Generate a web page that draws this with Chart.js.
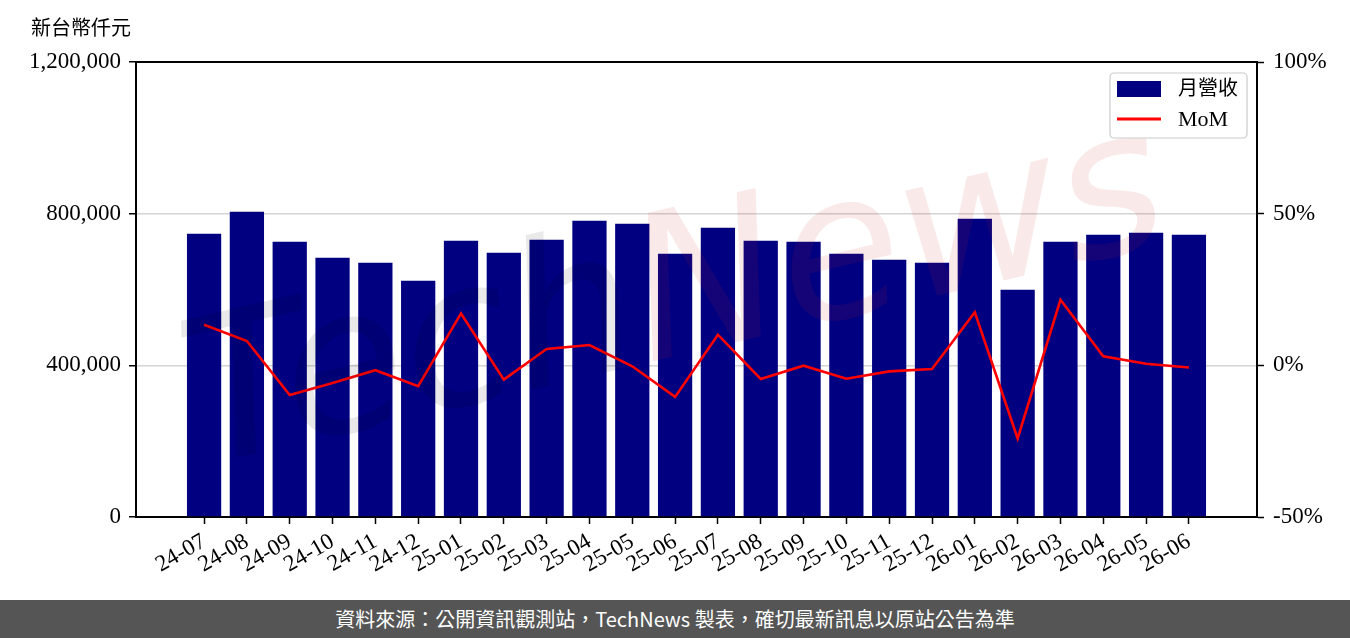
<!DOCTYPE html>
<html>
<head>
<meta charset="utf-8">
<script src="https://cdn.jsdelivr.net/npm/chart.js@4/dist/chart.umd.min.js"></script>
<style>
  html, body { margin: 0; padding: 0; background: #fff; }
  #wrap { position: relative; width: 1350px; height: 600px; }
  #footer {
    width: 1350px; height: 38px; background: #555555; color: #fff;
    font-family: "Noto Sans CJK TC", "Noto Sans", sans-serif; font-size: 20px;
    line-height: 38px; text-align: center;
  }
</style>
</head>
<body>
<div id="wrap"><canvas id="graphique" width="1350" height="600"></canvas></div>
<div id="footer">資料來源：公開資訊觀測站，TechNews 製表，確切最新訊息以原站公告為準</div>
<script>
// mois et valeurs
const mois = ['24-07', '24-08', '24-09', '24-10', '24-11', '24-12', '25-01', '25-02', '25-03', '25-04', '25-05', '25-06',
              '25-07', '25-08', '25-09', '25-10', '25-11', '25-12', '26-01', '26-02', '26-03', '26-04', '26-05', '26-06'];
const revenu = [747300, 805300, 726200, 684000, 670800, 623300, 728800, 697100, 731400, 781500, 773600, 694500,
                763100, 728800, 726200, 694500, 678700, 670800, 786800, 599600, 726200, 744600, 749900, 744600];
const mom = [13.4, 8.0, -9.8, -5.8, -1.6, -6.9, 17.1, -4.7, 5.4, 6.7, -0.3, -10.4,
             10.1, -4.5, -0.1, -4.4, -2.0, -1.2, 17.5, -24.1, 21.6, 3.0, 0.5, -0.7];
const revenuTicks = [0, 400000, 800000, 1200000];
const momTicks = [-50, 0, 50, 100];

const serif = '"Liberation Serif", "Noto Sans CJK TC", serif';
Chart.defaults.font.family = serif;
Chart.defaults.color = '#000';

const cadre = {
    id: 'cadre',
    afterDatasetsDraw(chart) {
        const { ctx, chartArea: a } = chart;
        // filigrane
        ctx.save();
        ctx.beginPath();
        ctx.rect(a.left, a.top, a.right - a.left, a.bottom - a.top);
        ctx.clip();
        ctx.translate(a.left + 500, a.top + 250);
        ctx.rotate(-13 * Math.PI / 180);
        ctx.font = 'italic 200px "DejaVu Sans"';
        ctx.textBaseline = 'middle';
        ctx.textAlign = 'right';
        ctx.fillStyle = 'rgba(0, 0, 0, 0.085)';
        ctx.fillText('Tech', 0, 0);
        ctx.textAlign = 'left';
        ctx.fillStyle = 'rgba(210, 40, 40, 0.1)';
        ctx.fillText('News', 0, 0);
        ctx.restore();

        // bord du haut
        ctx.save();
        ctx.strokeStyle = '#000';
        ctx.lineWidth = 2;
        ctx.beginPath();
        ctx.moveTo(a.left, a.top);
        ctx.lineTo(a.right, a.top);
        ctx.stroke();
        ctx.restore();
    },
    afterDraw(chart) {
        const { ctx, chartArea: a } = chart;
        ctx.save();
        // unité
        ctx.font = '20px "Noto Sans CJK TC"';
        ctx.fillStyle = '#000';
        ctx.textBaseline = 'middle';
        ctx.textAlign = 'left';
        ctx.fillText('新台幣仟元', 31, 27);

        // légende
        const x0 = a.right - 147, y0 = a.top + 11, w = 137, h = 65;
        ctx.fillStyle = 'rgba(255,255,255,0.85)';
        ctx.strokeStyle = '#cccccc';
        ctx.lineWidth = 1.2;
        ctx.beginPath();
        ctx.roundRect(x0, y0, w, h, 4);
        ctx.fill();
        ctx.stroke();
        ctx.fillStyle = '#000080';
        ctx.fillRect(x0 + 7, y0 + 8, 44, 16);
        ctx.strokeStyle = '#ff0000';
        ctx.lineWidth = 3;
        ctx.beginPath();
        ctx.moveTo(x0 + 7, y0 + 46);
        ctx.lineTo(x0 + 51, y0 + 46);
        ctx.stroke();
        ctx.fillStyle = '#000';
        ctx.font = '20px ' + serif;
        ctx.fillText('月營收', x0 + 68, y0 + 17);
        ctx.font = '22px ' + serif;
        ctx.fillText('MoM', x0 + 68, y0 + 47);
        ctx.restore();
    }
};

const ctx = document.getElementById('graphique').getContext('2d');
new Chart(ctx, {
    type: 'bar',
    data: {
        datasets: [
            {
                type: 'line',
                label: 'MoM',
                data: mom.map((v, i) => ({ x: i, y: v })),
                yAxisID: 'y1',
                borderColor: '#ff0000',
                borderWidth: 2.6,
                pointRadius: 0,
                tension: 0,
                order: 0
            },
            {
                label: '月營收',
                data: revenu.map((v, i) => ({ x: i, y: v })),
                yAxisID: 'y',
                backgroundColor: '#000080',
                barPercentage: 0.8,
                categoryPercentage: 1,
                order: 1
            }
        ]
    },
    options: {
        responsive: false,
        animation: false,
        layout: { padding: { top: 62, left: 0, right: 0, bottom: 0 } },
        plugins: { legend: { display: false }, tooltip: { enabled: false } },
        scales: {
            x: {
                type: 'linear',
                min: -1.59,
                max: 24.59,
                offset: false,
                afterBuildTicks: axis => { axis.ticks = mois.map((m, i) => ({ value: i })); },
                afterFit: axis => { axis.height = 83; },
                border: { color: '#000', width: 2 },
                grid: { drawOnChartArea: false, offset: false, tickLength: 7, tickColor: '#000', tickWidth: 1.5 },
                ticks: {
                    autoSkip: false,
                    minRotation: 30,
                    maxRotation: 30,
                    padding: 4,
                    font: { size: 23 },
                    callback: v => mois[v]
                }
            },
            y: {
                position: 'left',
                min: 0,
                max: 1200000,
                afterBuildTicks: axis => { axis.ticks = revenuTicks.map(v => ({ value: v })); },
                afterFit: axis => { axis.width = 136; },
                border: { color: '#000', width: 2 },
                grid: { color: '#d4d4d4', lineWidth: 1.5, tickLength: 7, tickColor: '#000', tickWidth: 1.5 },
                ticks: {
                    padding: 8,
                    font: { size: 23 },
                    callback: v => v.toLocaleString('en-US')
                }
            },
            y1: {
                position: 'right',
                min: -50,
                max: 100,
                afterBuildTicks: axis => { axis.ticks = momTicks.map(v => ({ value: v })); },
                afterFit: axis => { axis.width = 93; },
                border: { color: '#000', width: 2 },
                grid: { drawOnChartArea: false, tickLength: 7, tickColor: '#000', tickWidth: 1.5 },
                ticks: {
                    padding: 9,
                    font: { size: 23 },
                    callback: v => v + '%'
                }
            }
        }
    },
    plugins: [cadre]
});
</script>
</body>
</html>
